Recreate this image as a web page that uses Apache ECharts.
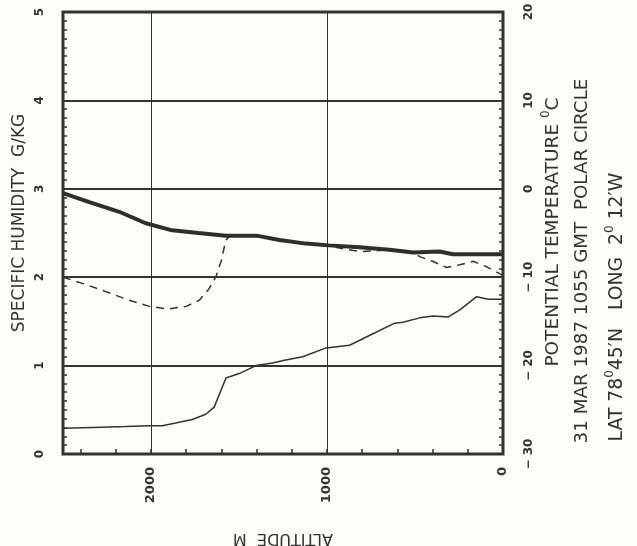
<!DOCTYPE html>
<html>
<head>
<meta charset="utf-8">
<script src="https://cdn.jsdelivr.net/npm/echarts@6/dist/echarts.min.js"></script>
<style>
html,body{margin:0;padding:0;background:#fcfcf9;}
#c{width:637px;height:546px;}
</style>
</head>
<body>
<div id="c"></div>
<script>
// Altitude (m) and values
const thetaAlt = [2500, 2350, 2180, 2030, 1880, 1730, 1575, 1400, 1270, 1120, 990, 815, 645, 510, 360, 285, 0];
const thetaVal = [-0.5, -1.5, -2.6, -3.9, -4.7, -5.0, -5.3, -5.3, -5.8, -6.2, -6.4, -6.6, -6.9, -7.2, -7.1, -7.4, -7.4];

const dashAlt = [2500, 2390, 2260, 2125, 2010, 1905, 1800, 1725, 1670, 1630, 1600, 1575, 1550, 1400, 1270, 1120, 990, 900, 815, 720, 645, 510, 470, 400, 320, 245, 170, 95, 0];
const dashVal = [-10.0, -10.7, -11.6, -12.6, -13.3, -13.6, -13.3, -12.6, -11.3, -9.9, -8.1, -5.8, -5.3, -5.3, -5.8, -6.2, -6.5, -6.8, -7.1, -7.0, -6.9, -7.2, -7.7, -8.2, -8.9, -8.6, -8.2, -8.8, -9.8];

const humAlt = [2500, 2334, 2144, 2011, 1936, 1860, 1765, 1689, 1641, 1574, 1499, 1403, 1309, 1242, 1138, 1005, 872, 739, 615, 568, 473, 397, 311, 245, 150, 84, 0];
const humVal = [0.29, 0.30, 0.31, 0.32, 0.32, 0.35, 0.39, 0.45, 0.53, 0.86, 0.91, 1.00, 1.03, 1.06, 1.10, 1.20, 1.23, 1.36, 1.48, 1.49, 1.54, 1.56, 1.55, 1.63, 1.78, 1.75, 1.75];

const altTicks = [0, 1000, 2000];
const humTicks = [0, 1, 2, 3, 4, 5];
const tempTicks = [-30, -20, -10, 0, 10, 20];

const ink = '#333333';
const FONT = '"DejaVu Sans",sans-serif';

const pairs = (a, v) => a.map((x, i) => [x, v[i]]);
const noLine = {show: false, onZero: false};

const chart = echarts.init(document.getElementById('c'), null, {renderer: 'canvas'});
chart.setOption({
  backgroundColor: '#fcfcf9',
  animation: false,
  grid: {left: 63, right: 134, top: 12, bottom: 92, show: true, borderColor: ink, borderWidth: 3, backgroundColor: 'transparent'},
  xAxis: [
    {type: 'value', inverse: true, min: 0, max: 2500, interval: 1000, position: 'bottom',
     axisLine: noLine, axisTick: {show: false},
     splitLine: {show: true, lineStyle: {color: ink, width: 1}},
     axisLabel: {rotate: 90, margin: 13, color: ink, fontFamily: FONT, fontSize: 13, fontWeight: 'bold',
                 customValues: altTicks, formatter: v => String(v)}},
    {type: 'value', inverse: true, min: 0, max: 2500, interval: 200, position: 'bottom',
     axisLine: noLine, splitLine: {show: false}, axisLabel: {show: false},
     axisTick: {show: true, inside: true, length: 5, lineStyle: {color: ink, width: 1.5}}}
  ],
  yAxis: [
    {type: 'value', min: 0, max: 5, interval: 1, position: 'left',
     axisLine: noLine, axisTick: {show: false},
     splitLine: {show: true, lineStyle: {color: ink, width: 2}},
     axisLabel: {rotate: 90, margin: 17, color: ink, fontFamily: FONT, fontSize: 12, fontWeight: 'bold',
                 customValues: humTicks}},
    {type: 'value', min: -30, max: 20, interval: 10, position: 'right',
     axisLine: noLine, splitLine: {show: false},
     axisTick: {show: false},
     axisLabel: {rotate: 90, margin: 20, color: ink, fontFamily: FONT, fontSize: 12, fontWeight: 'bold',
                 customValues: tempTicks,
                 formatter: v => v < 0 ? '\u2212 ' + Math.abs(v) : String(v)}},
    {type: 'value', min: 0, max: 5, interval: 0.1, position: 'left',
     axisLine: noLine, splitLine: {show: false}, axisLabel: {show: false},
     axisTick: {show: true, inside: true, length: 4, lineStyle: {color: ink, width: 1.5}}},
    {type: 'value', min: -30, max: 20, interval: 1, position: 'right',
     axisLine: noLine, splitLine: {show: false}, axisLabel: {show: false},
     axisTick: {show: true, inside: true, length: 4, lineStyle: {color: ink, width: 1.5}}}
  ],
  series: [
    {type: 'line', xAxisIndex: 0, yAxisIndex: 1, data: pairs(thetaAlt, thetaVal), showSymbol: false,
     lineStyle: {color: '#2e2e2e', width: 4}, z: 4},
    {type: 'line', xAxisIndex: 0, yAxisIndex: 1, data: pairs(dashAlt, dashVal), showSymbol: false,
     lineStyle: {color: ink, width: 1.5, type: [8, 6]}, z: 3},
    {type: 'line', xAxisIndex: 0, yAxisIndex: 0, data: pairs(humAlt, humVal), showSymbol: false,
     lineStyle: {color: ink, width: 1.5}, z: 3}
  ],
  graphic: [
    {type: 'text', x: 20, y: 223, rotation: Math.PI / 2,
     style: {text: 'SPECIFIC HUMIDITY  G/KG', fill: ink, font: '17px ' + FONT, align: 'center', verticalAlign: 'middle'}},
    {type: 'text', x: 283, y: 538, rotation: Math.PI,
     style: {text: 'ALTITUDE  M', fill: ink, font: '16px ' + FONT, align: 'center', verticalAlign: 'middle'}},
    {type: 'text', x: 551, y: 232, rotation: Math.PI / 2,
     style: {text: '{a|POTENTIAL TEMPERATURE }{s|0}{a|C}', fill: ink, align: 'center', verticalAlign: 'middle',
             rich: {a: {fontFamily: FONT, fontSize: 18.5, fill: ink, lineHeight: 23, verticalAlign: 'bottom'},
                    s: {fontFamily: FONT, fontSize: 12, fill: ink, lineHeight: 23, verticalAlign: 'top'}}}},
    {type: 'text', x: 582, y: 261, rotation: Math.PI / 2,
     style: {text: '31 MAR 1987 1055 GMT  POLAR CIRCLE', fill: ink, font: '18.3px ' + FONT, align: 'center', verticalAlign: 'middle'}},
    {type: 'text', x: 615, y: 307, rotation: Math.PI / 2,
     style: {text: '{a|LAT 78}{s|0}{a|45\u2032N   LONG  2}{s|0}{a| 12\u2032W}', fill: ink, align: 'center', verticalAlign: 'middle',
             rich: {a: {fontFamily: FONT, fontSize: 18.8, fill: ink, lineHeight: 23, verticalAlign: 'bottom'},
                    s: {fontFamily: FONT, fontSize: 12, fill: ink, lineHeight: 23, verticalAlign: 'top'}}}}
  ]
});
</script>
</body>
</html>
